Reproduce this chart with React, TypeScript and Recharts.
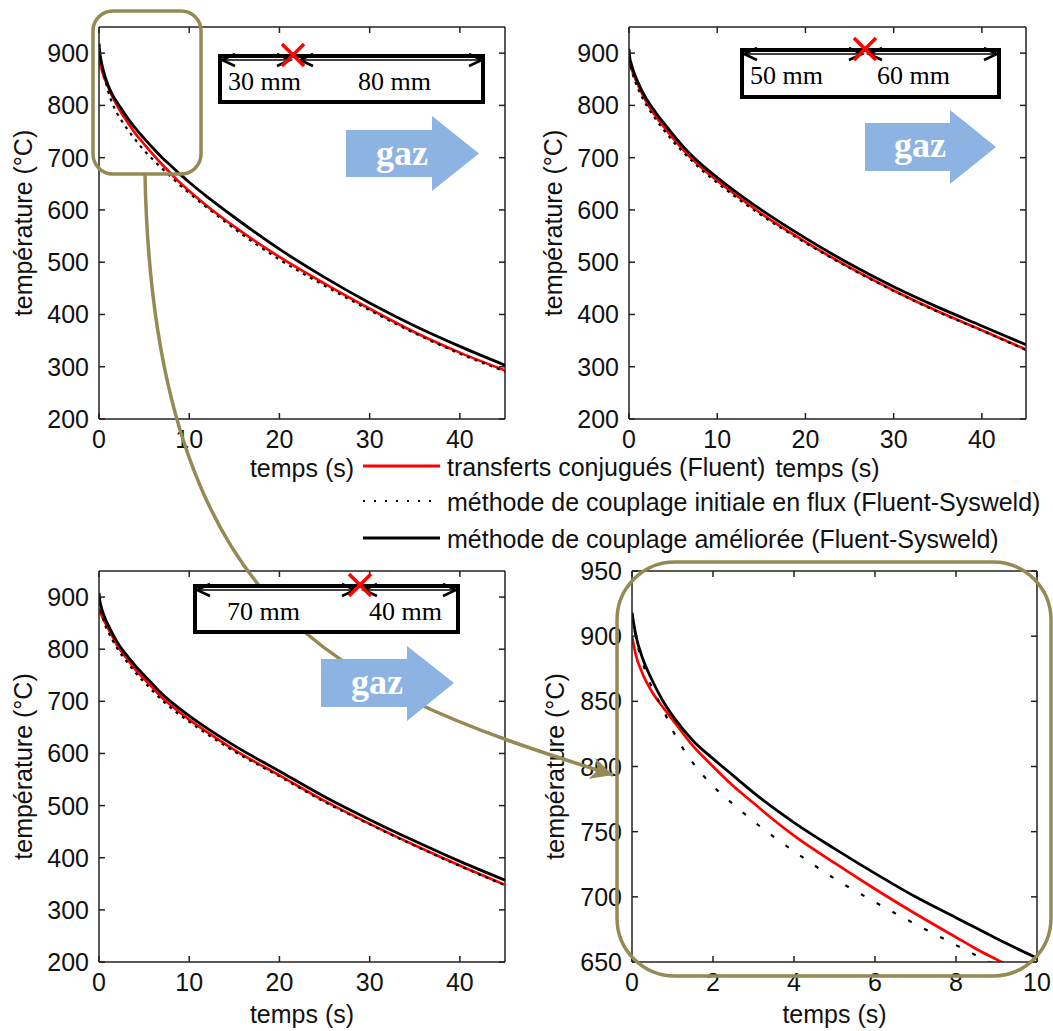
import React from "react";
import { LineChart, Line, XAxis, YAxis, ReferenceLine } from "recharts";

// temperatures (°C), one set per thermocouple position

// 30 mm / 80 mm (top left, and the 0-10 s zoom bottom right)
const time30 = [0, 0.1, 0.25, 0.5, 0.75, 1, 1.5, 2, 2.5, 3, 3.5, 4, 5, 6, 7, 8, 8.5, 9, 10, 12, 15, 20, 25, 30, 35, 40, 45];
const fluent30 = [900, 885, 872, 857, 846, 836, 816, 800, 785, 772, 759, 747, 726, 706, 687, 669, 660, 652, 636, 607, 568, 510, 459, 411, 366, 327, 293];
const initial30 = [918, 898, 881, 860, 845, 828, 803, 785, 771, 758, 746, 735, 714, 696, 679, 663, 655, 647, 632, 604, 564, 505, 455, 408, 364, 325, 291];
const improved30 = [918, 900, 884, 866, 851, 839, 820, 806, 793, 780, 768, 757, 737, 718, 700, 684, 676, 668, 653, 625, 586, 525, 471, 422, 378, 339, 303];

// 50 mm / 60 mm (top right)
const time50 = [0, 0.1, 0.25, 0.5, 1, 1.5, 2, 3, 4, 5, 6, 7, 8, 10, 12, 15, 20, 25, 30, 35, 40, 45];
const fluent50 = [885, 878, 872, 860, 840, 822, 806, 780, 758, 737, 718, 700, 684, 656, 630, 593, 539, 490, 446, 406, 370, 333];
const initial50 = [905, 885, 870, 855, 833, 815, 800, 774, 752, 731, 713, 696, 680, 652, 626, 590, 537, 489, 445, 405, 369, 332];
const improved50 = [908, 890, 880, 866, 845, 827, 812, 787, 765, 744, 724, 706, 690, 662, 636, 600, 546, 497, 453, 414, 378, 342];

// 70 mm / 40 mm (bottom left)
const time70 = [0, 0.1, 0.25, 0.5, 1, 1.5, 2, 3, 4, 5, 6, 7, 8, 10, 12, 15, 20, 25, 30, 35, 40, 45];
const fluent70 = [878, 872, 866, 857, 840, 824, 808, 784, 762, 743, 725, 707, 692, 665, 641, 607, 558, 509, 465, 424, 385, 348];
const initial70 = [905, 888, 873, 855, 834, 817, 802, 778, 756, 737, 719, 702, 687, 661, 637, 604, 556, 507, 464, 423, 384, 347];
const improved70 = [908, 893, 881, 867, 847, 830, 814, 790, 769, 750, 732, 714, 699, 672, 648, 615, 566, 517, 473, 432, 393, 357];

const timeTicks = [0, 10, 20, 30, 40];
const tempTicks = [200, 300, 400, 500, 600, 700, 800, 900];
const zoomTimeTicks = [0, 2, 4, 6, 8, 10];
const zoomTempTicks = [650, 700, 750, 800, 850, 900, 950];

const seriesKeys = ["fluent", "initial", "improved"];
const seriesNames = [
  "transferts conjugués (Fluent)",
  "méthode de couplage initiale en flux (Fluent-Sysweld)",
  "méthode de couplage améliorée (Fluent-Sysweld)",
];
const seriesColors = ["#ff0000", "#000000", "#000000"];

const OLIVE = "#948A54";
const GAZ_BLUE = "#8DB3E2";
const FRAME = "#222";
const SANS = "'Liberation Sans', Arial, sans-serif";
const SERIF = "'Liberation Serif', 'Times New Roman', serif";
const FS = 25;

function buildRows(time: number[], fluent: number[], initial: number[], improved: number[]) {
  return time.map((t, i) => ({ t, fluent: fluent[i], initial: initial[i], improved: improved[i] }));
}

const rows30 = buildRows(time30, fluent30, initial30, improved30);
const rows50 = buildRows(time50, fluent50, initial50, improved50);
const rows70 = buildRows(time70, fluent70, initial70, improved70);

const XH = 65;

// matlab-like ticks: inward on both sides of the box
function makeXTick(bottomY: number, topY: number) {
  return (p: any) => (
    <g>
      <line x1={p.x} x2={p.x} y1={bottomY} y2={bottomY - 6} stroke={FRAME} strokeWidth={1.5} />
      <line x1={p.x} x2={p.x} y1={topY} y2={topY + 6} stroke={FRAME} strokeWidth={1.5} />
      <text x={p.x} y={bottomY + 29} textAnchor="middle" fontSize={FS} fontFamily={SANS} fill="#111">
        {p.payload.value}
      </text>
    </g>
  );
}

function makeYTick(leftX: number, rightX: number) {
  return (p: any) => (
    <g>
      <line x1={leftX} x2={leftX + 6} y1={p.y} y2={p.y} stroke={FRAME} strokeWidth={1.5} />
      <line x1={rightX} x2={rightX - 6} y1={p.y} y2={p.y} stroke={FRAME} strokeWidth={1.5} />
      <text x={leftX - 10} y={p.y + 9} textAnchor="end" fontSize={FS} fontFamily={SANS} fill="#111">
        {p.payload.value}
      </text>
    </g>
  );
}

interface PanelProps {
  rows: Record<string, number>[];
  box: [number, number, number, number]; // left, top, width, height of the chart
  plot: [number, number, number, number]; // x0, y0, x1, y1 of the plot frame
  xDomain: [number, number];
  xTicks: number[];
  yDomain: [number, number];
  yTicks: number[];
  xLabelBaseline: number;
  yLabelX: number;
  dash: string;
}

function Panel({ rows, box, plot, xDomain, xTicks, yDomain, yTicks, xLabelBaseline, yLabelX, dash }: PanelProps) {
  const [L, T, W, H] = box;
  const [x0, y0, x1, y1] = plot;
  return (
    <div style={{ position: "absolute", left: L, top: T }}>
      <LineChart
        width={W}
        height={H}
        data={rows}
        margin={{ top: y0 - T, right: L + W - x1, bottom: T + H - y1 - XH, left: 0 }}
      >
        <XAxis
          dataKey="t"
          type="number"
          domain={xDomain}
          ticks={xTicks}
          interval={0}
          allowDataOverflow
          height={XH}
          axisLine={{ stroke: FRAME, strokeWidth: 1.5 }}
          tickLine={false}
          tick={makeXTick(y1 - T, y0 - T)}
          label={{
            value: "temps (s)",
            position: "insideBottom",
            offset: y1 + XH - xLabelBaseline,
            style: { fill: "#111", fontSize: FS, fontFamily: SANS },
          }}
        />
        <YAxis
          type="number"
          domain={yDomain}
          ticks={yTicks}
          interval={0}
          allowDataOverflow
          width={x0 - L}
          axisLine={{ stroke: FRAME, strokeWidth: 1.5 }}
          tickLine={false}
          tick={makeYTick(x0 - L, x1 - L)}
          label={{
            value: "température (°C)",
            angle: -90,
            position: "insideLeft",
            offset: yLabelX - L,
            style: { fill: "#111", fontSize: FS, fontFamily: SANS, textAnchor: "middle" },
          }}
        />
        <ReferenceLine y={yDomain[1]} stroke={FRAME} strokeWidth={1.5} />
        <ReferenceLine x={xDomain[1]} stroke={FRAME} strokeWidth={1.5} />
        <Line type="monotone" dataKey={seriesKeys[0]} stroke={seriesColors[0]} strokeWidth={2.7} dot={false} isAnimationActive={false} />
        <Line type="monotone" dataKey={seriesKeys[1]} stroke={seriesColors[1]} strokeWidth={2.2} strokeDasharray={dash} dot={false} isAnimationActive={false} />
        <Line type="monotone" dataKey={seriesKeys[2]} stroke={seriesColors[2]} strokeWidth={2.8} dot={false} isAnimationActive={false} />
      </LineChart>
    </div>
  );
}

function LegendBlock() {
  const rowY = [18, 53, 90];
  return (
    <svg style={{ position: "absolute", left: 340, top: 448 }} width={713} height={112}>
      {seriesNames.map((name, i) => (
        <g key={name}>
          <line
            x1={23}
            x2={100}
            y1={rowY[i]}
            y2={rowY[i]}
            stroke={seriesColors[i]}
            strokeWidth={i === 1 ? 2 : 3}
            strokeDasharray={i === 1 ? "2 9" : undefined}
          />
          <text x={107} y={rowY[i] + 10} fontSize={FS} fontFamily={SANS} fill="#111">
            {name}
          </text>
        </g>
      ))}
    </svg>
  );
}

interface DimProps {
  x: number; y: number; w: number; h: number;
  lineY: number;
  seg1: [number, number];
  seg2: [number, number];
  cross: [number, number];
  left: string; right: string;
  leftX: number; rightX: number; baseline: number;
}

function arrowHead(tip: number, y: number, dir: number) {
  return `M ${tip + dir * 13} ${y - 6} L ${tip} ${y} L ${tip + dir * 13} ${y + 6}`;
}

function DimBox({ x, y, w, h, lineY, seg1, seg2, cross, left, right, leftX, rightX, baseline }: DimProps) {
  const [cx, cy] = cross;
  return (
    <g>
      <rect x={x + 2} y={y + 2} width={w - 4} height={h - 4} fill="#fff" stroke="#000" strokeWidth={4} />
      {[seg1, seg2].map((s, i) => (
        <g key={i}>
          <line x1={s[0]} x2={s[1]} y1={lineY} y2={lineY} stroke="#000" strokeWidth={1.5} />
          <path d={arrowHead(s[0], lineY, 1)} fill="none" stroke="#000" strokeWidth={2.5} />
          <path d={arrowHead(s[1], lineY, -1)} fill="none" stroke="#000" strokeWidth={2.5} />
        </g>
      ))}
      <line x1={cx - 11} y1={cy - 11} x2={cx + 11} y2={cy + 11} stroke="#ff0000" strokeWidth={3.5} />
      <line x1={cx - 11} y1={cy + 11} x2={cx + 11} y2={cy - 11} stroke="#ff0000" strokeWidth={3.5} />
      <text x={leftX} y={baseline} fontSize={26} fontFamily={SERIF} fill="#000">{left}</text>
      <text x={rightX} y={baseline} fontSize={26} fontFamily={SERIF} fill="#000">{right}</text>
    </g>
  );
}

function GazArrow({ x0, ry0, ry1, hx, hy0, hy1, tip, textX, baseline }: Record<string, number>) {
  const ty = (ry0 + ry1) / 2;
  const d = `M ${x0} ${ry0} L ${hx} ${ry0} L ${hx} ${hy0} L ${tip} ${ty} L ${hx} ${hy1} L ${hx} ${ry1} L ${x0} ${ry1} Z`;
  return (
    <g>
      <path d={d} fill={GAZ_BLUE} />
      <text x={textX} y={baseline} textAnchor="middle" fontSize={36} fontWeight="bold" fontFamily={SERIF} fill="#fff">
        gaz
      </text>
    </g>
  );
}

function Overlay() {
  return (
    <svg style={{ position: "absolute", left: 0, top: 0, pointerEvents: "none" }} width={1053} height={1031}>
      <defs>
        <marker id="olive-head" markerUnits="userSpaceOnUse" markerWidth={24} markerHeight={22} refX={22} refY={11} orient="auto">
          <path d="M 0 0 L 22 11 L 0 22 L 6 11 Z" fill={OLIVE} />
        </marker>
      </defs>
      <rect x={93} y={11} width={108} height={163} rx={20} fill="none" stroke={OLIVE} strokeWidth={3.5} />
      <rect x={617} y={562} width={434} height={414} rx={58} fill="none" stroke={OLIVE} strokeWidth={3.5} />
      <path
        d="M 145 174 C 148 330 175 480 257 583 C 339 686 470 730 613 775"
        fill="none"
        stroke={OLIVE}
        strokeWidth={3.5}
        markerEnd="url(#olive-head)"
      />
      <DimBox x={218} y={54} w={267} h={50} lineY={60} seg1={[222, 290]} seg2={[300, 482]} cross={[293, 55]} left="30 mm" right="80 mm" leftX={228} rightX={358} baseline={90} />
      <DimBox x={740} y={48} w={261} h={51} lineY={54} seg1={[744, 862]} seg2={[869, 997]} cross={[865, 49]} left="50 mm" right="60 mm" leftX={750} rightX={877} baseline={84} />
      <DimBox x={193} y={584} w={267} h={50} lineY={590} seg1={[197, 355]} seg2={[364, 456]} cross={[360, 585]} left="70 mm" right="40 mm" leftX={227} rightX={369} baseline={620} />
      <GazArrow x0={346} ry0={130} ry1={177} hx={432} hy0={116} hy1={191} tip={479} textX={402} baseline={165} />
      <GazArrow x0={865} ry0={123} ry1={171} hx={950} hy0={110} hy1={184} tip={996} textX={920} baseline={157} />
      <GazArrow x0={321} ry0={659} ry1={707} hx={407} hy0={646} hy1={721} tip={454} textX={377} baseline={694} />
    </svg>
  );
}

export default function App() {
  return (
    <div style={{ position: "absolute", left: 0, top: 0, width: 1053, height: 1031, background: "#fff", overflow: "hidden" }}>
      <Panel rows={rows30} box={[0, 0, 520, 500]} plot={[99, 27, 505, 419]} xDomain={[0, 45]} xTicks={timeTicks} yDomain={[200, 950]} yTicks={tempTicks} xLabelBaseline={477} yLabelX={23} dash="3 5" />
      <Panel rows={rows50} box={[520, 0, 533, 500]} plot={[629, 27, 1026, 419]} xDomain={[0, 45]} xTicks={timeTicks} yDomain={[200, 950]} yTicks={tempTicks} xLabelBaseline={477} yLabelX={553} dash="3 5" />
      <Panel rows={rows70} box={[0, 540, 520, 491]} plot={[99, 571, 505, 962]} xDomain={[0, 45]} xTicks={timeTicks} yDomain={[200, 950]} yTicks={tempTicks} xLabelBaseline={1023} yLabelX={23} dash="3 5" />
      <Panel rows={rows30} box={[540, 540, 513, 491]} plot={[632, 571, 1037, 962]} xDomain={[0, 10]} xTicks={zoomTimeTicks} yDomain={[650, 950]} yTicks={zoomTempTicks} xLabelBaseline={1023} yLabelX={555} dash="4 14" />
      <LegendBlock />
      <Overlay />
    </div>
  );
}
